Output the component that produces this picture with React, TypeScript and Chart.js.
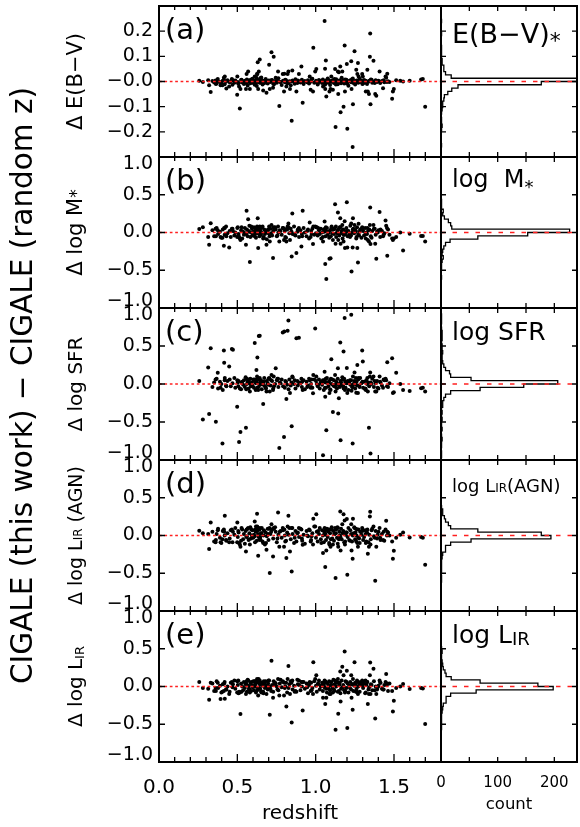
import { useEffect, useRef } from 'react';
import { Chart, registerables } from 'chart.js';

Chart.register(...registerables);

const FONT = '"DejaVu Sans", "Liberation Sans", sans-serif';
const WEIGHT = 'normal';
const W = 580;
const H = 827;

// ---------------- data ----------------
// redshift of each galaxy (first the visible outliers, then the dense core)
const redshift = [
  0.257, 0.280, 0.320, 0.330, 0.314, 0.363, 0.375, 0.393, 0.405, 0.414,
  0.416, 0.420, 0.430, 0.448, 0.465, 0.472, 0.499, 0.511, 0.516, 0.520,
  0.500, 0.559, 0.569, 0.580, 0.555, 0.611, 0.622, 0.626, 0.628, 0.630,
  0.643, 0.637, 0.633, 0.665, 0.686, 0.703, 0.718, 0.732, 0.707, 0.728,
  0.745, 0.760, 0.768, 0.790, 0.800, 0.798, 0.826, 0.821, 0.813, 0.847,
  0.851, 0.836, 0.877, 0.893, 0.909, 0.917, 0.962, 0.968, 0.985, 0.997,
  0.983, 1.004, 1.047, 1.057, 1.061, 1.068, 1.065, 1.060, 1.088, 1.095,
  1.100, 1.110, 1.127, 1.124, 1.142, 1.144, 1.148, 1.159, 1.157, 1.178,
  1.185, 1.187, 1.199, 1.202, 1.170, 1.227, 1.229, 1.236, 1.238, 1.248,
  1.259, 1.266, 1.270, 1.274, 1.297, 1.301, 1.320, 1.333, 1.330, 1.340,
  1.348, 1.346, 1.350, 1.369, 1.380, 1.387, 1.408, 1.430, 1.446, 1.450,
  1.457, 1.488, 1.493, 1.499, 1.514, 1.540, 1.558, 1.600, 1.673, 1.684,
  1.699,
  0.341, 0.352, 0.368, 0.377, 0.389, 0.398, 0.407, 0.419, 0.428, 0.437,
  0.451, 0.458, 0.469, 0.481, 0.487, 0.503, 0.508, 0.524, 0.531, 0.537,
  0.542, 0.548, 0.553, 0.561, 0.566, 0.572, 0.577, 0.583, 0.588, 0.593,
  0.597, 0.602, 0.606, 0.613, 0.617, 0.619, 0.624, 0.632, 0.636, 0.641,
  0.647, 0.651, 0.656, 0.661, 0.667, 0.672, 0.676, 0.681, 0.688, 0.694,
  0.699, 0.711, 0.722, 0.729, 0.741, 0.752, 0.762, 0.771, 0.783, 0.792,
  0.803, 0.811, 0.818, 0.832, 0.841, 0.853, 0.862, 0.871, 0.883, 0.894,
  0.903, 0.912, 0.923, 0.931, 0.942, 0.951, 0.958, 0.971, 0.979, 0.991,
  1.002, 1.007, 1.013, 1.021, 1.026, 1.033, 1.041, 1.046, 1.052, 1.056,
  1.063, 1.066, 1.072, 1.077, 1.081, 1.086, 1.092, 1.102, 1.106, 1.113,
  1.117, 1.121, 1.131, 1.136, 1.141, 1.151, 1.154, 1.162, 1.166, 1.172,
  1.176, 1.182, 1.191, 1.196, 1.204, 1.209, 1.214, 1.221, 1.226, 1.232,
  1.241, 1.246, 1.252, 1.261, 1.264, 1.272, 1.281, 1.284, 1.292, 1.303,
  1.309, 1.316, 1.323, 1.328, 1.342, 1.352, 1.361, 1.372, 1.383, 1.392,
  1.401, 1.412, 1.423, 1.438, 1.462, 1.471, 0.361, 0.506, 0.527, 0.557,
  0.574, 0.589, 0.611, 0.627, 0.643, 0.653, 0.669, 0.683, 0.696, 0.716,
  0.734, 0.756, 0.776, 0.806, 0.827, 0.846, 0.866, 0.886, 0.914, 0.946,
  0.974, 1.016, 1.036, 1.059, 1.083, 1.097, 1.119, 1.139, 1.158, 1.179,
  1.198, 1.219, 1.237, 1.257, 1.277, 1.298, 1.318, 1.337, 1.357, 1.377,
  1.396, 1.414, 1.434, 1.455, 0.614, 0.646, 0.706, 1.129, 1.188, 1.254,
];

// (a) Delta E(B-V)
const dEBV = [
  0.003, -0.002, -0.015, -0.042, 0.005, -0.01, 0.01, -0.015, -0.015, 0.015,
  0.005, 0.02, -0.028, -0.02, 0.01, 0.005, -0.053, -0.02, -0.107, -0.03,
  0.02, 0.03, 0.04, -0.03, -0.03, 0.02, 0.015, 0.03, 0.03, 0.076,
  0.087, 0.04, -0.03, -0.036, -0.045, 0.067, 0.116, 0.098, -0.03, -0.025,
  0.015, 0.04, -0.097, 0.03, 0.031, -0.04, 0.04, 0.03, -0.02, -0.156,
  0.044, -0.03, -0.04, 0.03, 0.06, -0.084, 0.02, -0.033, 0.134, 0.04,
  -0.04, 0.05, -0.02, 0.24, -0.03, -0.06, 0.083, 0.051, -0.04, -0.03,
  0.02, -0.033, -0.181, 0.05, 0.04, -0.05, 0.037, -0.122, 0.06, -0.1,
  0.143, -0.04, 0.07, -0.188, 0.04, 0.08, -0.03, -0.26, -0.09, 0.12,
  0.047, 0.03, 0.074, 0.02, 0.03, 0.02, -0.04, -0.04, 0.047, -0.05,
  0.191, 0.098, -0.09, 0.082, -0.05, -0.057, 0.04, -0.027, 0.02, 0.015,
  0.031, -0.069, -0.04, -0.03, 0.005, 0.003, 0.0, 0.003, 0.008, 0.01,
  -0.1,
  0.002, -0.004, -0.008, 0.001, -0.002, -0.006, 0.003, -0.011, -0.001, 0.005,
  -0.003, 0.001, -0.013, -0.005, 0.004, -0.002, -0.007, 0.006, -0.004, 0.000,
  -0.010, 0.003, -0.005, 0.008, -0.016, -0.001, 0.005, -0.007, 0.002, -0.003,
  0.011, -0.006, -0.002, 0.004, -0.009, 0.001, -0.018, 0.006, -0.003, 0.002,
  -0.005, 0.007, -0.001, -0.012, 0.003, -0.006, 0.001, 0.010, -0.004, -0.008,
  0.004, -0.002, 0.006, -0.009, 0.002, -0.005, 0.013, -0.001, -0.014, 0.003,
  -0.003, 0.005, -0.007, 0.001, -0.015, 0.004, -0.002, 0.009, -0.006, 0.001,
  -0.004, 0.007, -0.010, 0.002, -0.001, 0.005, -0.008, 0.000, 0.011, -0.005,
  0.003, -0.003, -0.012, 0.006, -0.001, 0.002, -0.006, 0.008, -0.004, 0.001,
  -0.009, 0.004, -0.002, 0.012, -0.005, 0.001, -0.014, 0.003, -0.001, 0.006,
  -0.006, 0.002, 0.009, -0.003, -0.011, 0.001, 0.005, -0.007, 0.015, -0.002,
  0.004, -0.008, 0.000, 0.007, -0.004, -0.017, 0.002, 0.005, -0.003, 0.009,
  -0.006, 0.002, -0.012, 0.004, 0.001, -0.005, 0.011, -0.002, 0.003, -0.008,
  0.006, -0.004, 0.001, -0.010, 0.003, 0.008, -0.005, 0.000, 0.005, -0.002,
  0.003, -0.006, 0.002, -0.003, 0.001, -0.002, 0.004, -0.009, 0.007, -0.005,
  0.001, 0.008, -0.013, 0.003, -0.004, 0.016, -0.007, 0.002, -0.001, 0.005,
  -0.011, 0.003, -0.002, 0.007, -0.006, 0.001, -0.009, 0.004, 0.000, -0.003,
  0.008, -0.005, 0.002, -0.013, 0.005, -0.001, 0.010, -0.007, 0.001, 0.004,
  -0.008, 0.002, 0.012, -0.004, 0.006, -0.010, 0.003, -0.001, 0.007, -0.006,
  0.001, -0.003, 0.005, -0.002, -0.008, 0.013, 0.003, -0.012, 0.008, -0.004,
];

// (b) Delta log M*
const dLogMstar = [
  0.045, 0.071, -0.163, 0.124, -0.061, -0.05, 0.03, -0.06, -0.07, -0.176,
  0.06, 0.06, -0.05, -0.198, 0.05, 0.02, -0.06, -0.06, -0.08, -0.1,
  0.06, 0.287, 0.177, -0.391, -0.163, 0.06, 0.05, 0.08, 0.06, 0.19,
  0.08, 0.06, -0.206, -0.08, -0.163, 0.08, 0.1, 0.07, -0.12, -0.338,
  0.04, 0.08, -0.12, 0.06, 0.05, -0.1, 0.12, 0.08, -0.12, -0.317,
  0.251, -0.1, -0.272, 0.06, -0.185, 0.287, 0.132, -0.06, 0.08, 0.08,
  -0.153, 0.07, -0.12, 0.145, -0.418, -0.616, 0.07, 0.05, -0.347, -0.34,
  0.06, -0.1, -0.15, 0.375, 0.265, -0.1, 0.05, -0.15, 0.19, -0.12,
  0.15, -0.206, 0.401, -0.2, 0.1, 0.12, -0.515, -0.2, 0.19, 0.1,
  -0.08, -0.206, -0.396, 0.115, 0.07, 0.05, -0.08, -0.1, 0.06, -0.12,
  0.33, 0.1, -0.153, 0.1, -0.15, -0.347, 0.273, -0.05, 0.159, 0.088,
  -0.308, -0.08, -0.1, -0.08, -0.061, 0.0, -0.238, -0.017, -0.048, -0.045,
  -0.12,
  0.03, -0.05, 0.06, -0.02, 0.01, -0.07, 0.04, -0.03, 0.08, -0.01,
  0.02, -0.06, 0.05, -0.04, 0.00, 0.07, -0.02, 0.03, -0.08, 0.01,
  -0.03, 0.06, -0.01, 0.04, -0.05, 0.02, 0.09, -0.06, 0.00, 0.05,
  -0.04, 0.01, 0.07, -0.02, 0.03, -0.07, 0.05, -0.01, 0.02, -0.05,
  0.06, -0.03, 0.00, 0.08, -0.06, 0.04, -0.02, 0.01, -0.09, 0.03,
  -0.01, 0.05, -0.04, 0.02, 0.07, -0.05, 0.00, 0.03, -0.03, 0.06,
  0.02, -0.07, 0.04, -0.01, 0.05, -0.02, 0.08, -0.04, 0.01, -0.06,
  0.03, -0.02, 0.06, 0.00, -0.05, 0.04, -0.08, 0.02, 0.05, -0.03,
  -0.01, 0.07, -0.04, 0.03, -0.02, 0.05, 0.00, -0.06, 0.04, 0.01,
  -0.05, 0.02, 0.06, -0.03, 0.01, -0.07, 0.03, 0.08, -0.01, 0.04,
  -0.02, 0.05, -0.06, 0.00, 0.03, -0.04, 0.07, -0.01, 0.02, -0.08,
  0.04, -0.03, 0.01, 0.06, -0.05, 0.02, -0.02, 0.09, -0.04, 0.00,
  0.05, -0.01, 0.03, -0.06, 0.07, -0.03, 0.01, 0.04, -0.07, 0.02,
  -0.04, 0.06, 0.00, -0.02, 0.04, -0.05, 0.02, 0.05, -0.03, 0.01,
  0.03, -0.06, 0.02, -0.01, 0.04, -0.03, 0.05, -0.04, 0.07, -0.02,
  0.01, 0.08, -0.05, 0.03, -0.02, 0.06, -0.07, 0.00, 0.04, -0.01,
  0.05, -0.04, 0.02, -0.06, 0.07, 0.01, -0.03, 0.04, -0.05, 0.02,
  -0.02, 0.06, -0.08, 0.03, 0.00, -0.05, 0.05, -0.01, 0.07, -0.03,
  0.02, -0.06, 0.04, 0.01, -0.04, 0.06, -0.02, 0.03, -0.07, 0.05,
  0.00, 0.04, -0.03, 0.06, -0.01, 0.02, -0.05, 0.08, -0.02, 0.03,
];

// (c) Delta log SFR
const dLogSFR = [
  0.04, -0.467, -0.396, 0.471, 0.216, -0.498, 0.149, -0.05, -0.784, 0.44,
  0.281, 0.08, -0.03, 0.229, 0.462, 0.45, -0.3, -0.762, -0.06, -0.63,
  0.05, 0.07, 0.06, -0.1, -0.577, 0.538, 0.185, 0.1, 0.348, 0.07,
  0.634, 0.63, -0.08, -0.264, -0.1, 0.08, 0.12, 0.1, -0.1, -0.08,
  0.207, 0.07, -0.841, 0.678, 0.69, -0.696, 0.836, 0.70, -0.198, -0.555,
  0.1, -0.12, 0.603, 0.61, 0.07, -0.08, 0.05, -0.05, 0.12, 0.73,
  -0.123, 0.1, -0.938, 0.162, -0.167, -0.608, 0.07, 0.06, -0.12, -0.08,
  0.326, -0.37, -0.1, 0.12, 0.207, -0.387, -0.189, -0.74, 0.546, 0.427,
  0.868, -0.08, 0.21, -0.12, 0.09, 0.911, -0.09, -0.784, 0.1, 0.15,
  -0.115, 0.251, -0.12, 0.08, 0.44, 0.295, -0.08, -0.1, 0.08, -0.577,
  0.15, 0.1, -0.916, 0.1, -0.1, -0.1, 0.1, -0.05, 0.07, 0.05,
  0.287, 0.34, -0.12, -0.11, 0.149, 0.0, -0.079, -0.092, -0.057, -0.05,
  -0.1,
  -0.04, 0.02, 0.07, -0.06, 0.03, 0.00, -0.08, 0.05, -0.02, 0.04,
  0.06, -0.03, 0.01, 0.08, -0.05, 0.02, 0.04, -0.07, 0.03, -0.01,
  0.05, -0.04, 0.09, 0.00, 0.03, -0.06, 0.01, 0.07, -0.03, 0.02,
  -0.02, 0.06, -0.05, 0.04, -0.08, 0.01, 0.03, 0.06, -0.04, 0.00,
  0.02, 0.05, -0.07, 0.03, -0.01, 0.08, -0.03, -0.05, 0.04, 0.01,
  0.07, -0.02, 0.04, -0.06, 0.00, 0.05, -0.04, 0.02, 0.06, -0.03,
  -0.05, 0.03, -0.01, 0.06, -0.02, 0.09, 0.00, -0.06, 0.04, 0.02,
  0.01, -0.04, 0.05, -0.07, 0.03, -0.02, 0.07, 0.00, -0.05, 0.06,
  0.04, 0.00, -0.03, 0.06, -0.06, 0.02, -0.01, 0.05, -0.08, 0.03,
  0.02, -0.05, 0.08, 0.01, -0.03, 0.04, -0.07, 0.00, 0.06, -0.02,
  0.05, -0.01, 0.03, -0.06, 0.07, 0.00, -0.04, 0.02, -0.02, 0.06,
  -0.03, 0.07, -0.05, 0.01, 0.04, -0.08, 0.02, -0.01, 0.05, -0.04,
  0.00, 0.04, -0.06, 0.03, -0.02, 0.06, -0.04, 0.08, 0.01, -0.05,
  0.03, -0.07, 0.05, 0.00, -0.03, 0.02, 0.07, -0.04, 0.01, 0.04,
  -0.06, 0.03, -0.02, 0.05, -0.04, 0.01, 0.06, -0.03, 0.02, -0.07,
  0.04, -0.02, 0.06, -0.05, 0.08, 0.00, 0.03, -0.06, -0.01, 0.05,
  -0.03, 0.07, 0.01, 0.04, -0.07, 0.02, 0.05, -0.02, 0.03, -0.04,
  0.06, -0.01, 0.03, -0.05, 0.02, 0.07, -0.03, 0.00, 0.04, -0.06,
  0.01, 0.05, -0.04, 0.08, -0.02, 0.03, -0.06, 0.02, 0.00, 0.04,
  -0.05, 0.02, 0.06, -0.03, 0.04, -0.01, 0.07, -0.04, 0.03, 0.00,
];

// (d) Delta log L_IR(AGN)
const dLogLirAgn = [
  0.062, 0.03, -0.18, 0.172, 0.02, -0.06, 0.07, -0.09, -0.05, 0.08,
  0.05, 0.26, -0.07, -0.09, 0.08, 0.05, -0.09, -0.1, -0.12, -0.15,
  0.172, 0.08, 0.1, -0.12, -0.211, 0.185, 0.06, 0.287, 0.1, 0.07,
  0.1, 0.08, -0.268, -0.1, -0.189, 0.09, 0.15, 0.1, -0.497, -0.277,
  0.05, 0.304, -0.15, 0.1, 0.08, -0.15, 0.26, 0.12, -0.299, -0.476,
  0.1, -0.211, -0.08, 0.1, 0.08, -0.123, 0.07, -0.08, 0.221, 0.12,
  -0.12, 0.283, -0.233, 0.1, -0.418, -0.2, 0.08, 0.06, -0.12, -0.15,
  0.08, -0.12, -0.563, 0.1, 0.1, -0.15, -0.05, -0.2, 0.317, 0.283,
  0.2, -0.12, 0.217, -0.519, 0.15, 0.15, -0.2, -0.308, 0.221, 0.1,
  -0.08, -0.1, -0.15, 0.08, 0.1, 0.07, -0.1, -0.242, 0.08, -0.15,
  0.313, 0.251, -0.12, 0.12, -0.598, -0.15, 0.1, -0.06, 0.08, 0.194,
  0.05, -0.08, -0.308, -0.202, -0.03, 0.01, 0.04, -0.026, -0.021, -0.03,
  -0.387,
  0.05, -0.08, 0.02, 0.09, -0.03, -0.10, 0.06, 0.00, -0.06, 0.03,
  -0.04, 0.07, -0.09, 0.01, 0.10, -0.02, 0.04, -0.07, 0.08, -0.05,
  0.02, -0.11, 0.06, -0.01, 0.09, -0.06, 0.03, 0.11, -0.04, 0.00,
  0.07, -0.03, 0.01, -0.09, 0.05, 0.12, -0.07, 0.02, -0.02, 0.08,
  -0.05, 0.03, 0.10, -0.08, 0.00, 0.06, -0.12, 0.04, -0.01, 0.09,
  -0.06, 0.02, 0.08, -0.04, 0.11, -0.09, 0.01, 0.05, -0.03, 0.07,
  0.00, -0.07, 0.04, 0.10, -0.05, 0.02, -0.10, 0.06, 0.03, -0.02,
  0.09, -0.04, 0.01, -0.11, 0.06, -0.01, 0.08, -0.06, 0.03, 0.12,
  -0.03, 0.05, -0.08, 0.02, 0.10, -0.05, 0.07, 0.00, -0.09, 0.04,
  0.01, -0.06, 0.09, -0.02, 0.05, -0.10, 0.03, 0.11, -0.04, 0.06,
  -0.07, 0.02, 0.08, -0.03, -0.11, 0.05, 0.00, 0.09, -0.05, 0.03,
  0.06, -0.09, 0.01, 0.04, -0.02, 0.10, -0.06, 0.07, 0.02, -0.08,
  0.03, 0.11, -0.05, 0.00, 0.08, -0.03, -0.10, 0.05, 0.01, -0.06,
  -0.02, 0.07, -0.08, 0.04, 0.01, -0.05, 0.09, -0.01, 0.06, -0.04,
  0.05, -0.03, 0.02, -0.07, 0.04, 0.00, -0.09, 0.06, 0.10, -0.02,
  -0.05, 0.08, -0.01, 0.12, -0.06, 0.03, 0.07, -0.10, 0.02, 0.05,
  0.09, -0.04, 0.06, -0.08, 0.01, 0.10, -0.03, 0.04, -0.07, 0.00,
  -0.01, 0.06, -0.10, 0.03, 0.08, -0.05, 0.02, 0.11, -0.02, 0.05,
  0.04, -0.07, 0.00, 0.09, -0.04, 0.06, 0.02, -0.09, 0.07, -0.03,
  0.01, -0.06, 0.05, 0.00, 0.08, -0.02, 0.10, 0.03, -0.08, 0.04,
];

// (e) Delta log L_IR
const dLogLir = [
  0.058, -0.021, -0.176, 0.05, -0.03, -0.06, 0.05, -0.167, -0.07, -0.06,
  0.04, -0.163, -0.04, -0.1, 0.06, 0.03, -0.08, -0.07, -0.08, -0.365,
  0.07, 0.07, 0.08, -0.08, -0.1, 0.07, 0.05, 0.1, 0.08, 0.06,
  0.08, 0.06, -0.12, -0.07, -0.1, 0.08, 0.34, 0.07, -0.374, -0.15,
  0.04, 0.1, -0.12, 0.07, 0.05, -0.12, 0.273, 0.1, -0.264, -0.476,
  0.08, -0.1, -0.07, 0.08, 0.06, -0.317, 0.06, -0.06, 0.322, 0.1,
  -0.1, 0.15, -0.15, 0.08, -0.233, -0.15, 0.06, 0.05, -0.1, -0.1,
  0.06, -0.08, -0.572, 0.08, 0.1, -0.361, -0.06, -0.2, 0.2, 0.15,
  0.462, -0.08, 0.207, -0.55, 0.26, 0.15, -0.15, -0.308, 0.1, 0.322,
  -0.06, -0.08, -0.1, 0.06, 0.08, 0.06, -0.08, -0.233, 0.06, -0.1,
  0.317, 0.15, -0.1, 0.234, -0.423, -0.1, 0.08, -0.04, 0.06, 0.164,
  0.04, -0.06, -0.33, -0.189, -0.02, 0.0, 0.032, -0.034, -0.021, -0.025,
  -0.497,
  0.04, -0.06, 0.07, -0.02, 0.01, -0.08, 0.03, 0.06, -0.04, 0.00,
  -0.07, 0.05, -0.01, 0.08, -0.03, 0.02, -0.09, 0.04, 0.00, -0.05,
  0.06, -0.02, 0.03, -0.07, 0.09, 0.01, -0.04, 0.05, -0.06, 0.02,
  -0.01, 0.07, -0.05, 0.03, 0.00, -0.08, 0.06, -0.03, 0.10, -0.02,
  0.03, -0.06, 0.05, 0.01, -0.09, 0.04, -0.02, 0.07, 0.00, -0.04,
  0.08, -0.03, 0.02, -0.07, 0.05, 0.00, -0.05, 0.04, -0.01, 0.06,
  -0.02, 0.05, -0.08, 0.03, 0.07, -0.04, 0.01, -0.06, 0.09, 0.02,
  -0.05, 0.00, 0.06, -0.03, 0.04, -0.09, 0.02, 0.05, -0.02, 0.07,
  0.01, -0.07, 0.03, 0.08, -0.04, 0.00, 0.05, -0.06, 0.02, -0.01,
  0.06, -0.03, -0.08, 0.04, 0.01, 0.07, -0.05, 0.02, -0.02, 0.09,
  -0.04, 0.03, 0.00, 0.06, -0.07, 0.02, 0.05, -0.03, 0.08, -0.01,
  0.02, -0.05, 0.07, -0.02, 0.04, -0.08, 0.01, 0.06, -0.04, 0.03,
  -0.06, 0.01, 0.05, -0.03, 0.08, 0.00, -0.07, 0.03, 0.06, -0.02,
  0.04, -0.09, 0.02, 0.06, -0.01, 0.03, -0.05, 0.07, 0.00, -0.04,
  0.01, 0.05, -0.03, 0.02, -0.06, 0.04, -0.02, 0.08, -0.07, 0.03,
  -0.03, 0.06, 0.00, -0.05, 0.03, -0.08, 0.07, 0.01, 0.04, -0.06,
  0.02, -0.04, 0.09, 0.00, -0.02, 0.05, -0.07, 0.03, 0.06, -0.01,
  -0.05, 0.04, 0.01, 0.07, -0.03, 0.02, -0.06, 0.05, -0.09, 0.00,
  0.06, -0.02, 0.03, -0.07, 0.04, 0.01, 0.08, -0.04, 0.02, -0.05,
  -0.01, 0.05, -0.04, 0.02, 0.07, -0.03, 0.00, 0.06, -0.06, 0.03,
];

// histogram counts, bins k = -23 .. 22 (lower edge = k * bin width)
const histFirstBin = -23;
const histBinWidth = [0.013, 0.044, 0.044, 0.044, 0.044];
const histEBV = [
  0, 0, 0, 1, 0, 0, 0, 0, 1, 2, 1, 1, 0, 1, 2, 3, 3, 5, 6, 12, 19, 30, 177,
  250, 18, 8, 5, 5, 2, 2, 1, 1, 1, 1, 0, 0, 0, 1, 0, 0, 0, 1, 0, 0, 0, 0,
];
const histLogMstar = [
  0, 0, 0, 0, 0, 0, 0, 0, 0, 1, 0, 0, 1, 1, 2, 4, 2, 3, 5, 8, 16, 65, 153,
  227, 19, 17, 13, 6, 3, 4, 1, 1, 1, 0, 0, 0, 0, 0, 0, 0, 0, 0, 0, 0, 0, 0,
];
const histLogSFR = [
  0, 1, 1, 0, 1, 1, 2, 1, 0, 2, 1, 1, 2, 1, 2, 1, 3, 3, 5, 8, 17, 69, 146,
  206, 53, 17, 15, 8, 5, 3, 2, 2, 3, 2, 2, 1, 2, 2, 2, 1, 0, 1, 1, 1, 0, 0,
];
const histLogLirAgn = [
  0, 0, 0, 0, 0, 0, 0, 0, 0, 1, 1, 0, 1, 1, 1, 1, 2, 3, 8, 8, 17, 53, 194,
  177, 65, 17, 13, 8, 6, 3, 3, 1, 0, 0, 0, 0, 0, 0, 0, 0, 0, 0, 0, 0, 0, 0,
];
const histLogLir = [
  0, 0, 0, 0, 0, 0, 0, 0, 0, 0, 1, 1, 1, 1, 1, 2, 3, 4, 9, 9, 17, 62, 198,
  171, 69, 18, 9, 7, 4, 3, 2, 1, 1, 2, 1, 0, 0, 0, 0, 0, 0, 0, 0, 0, 0, 0,
];

// axes
const redshiftRange = [0, 1.8];
const countRange = [0, 240];
const deltaRanges = [[-0.3, 0.3], [-1, 1], [-1, 1], [-1, 1], [-1, 1]];
const redshiftMajorTicks = [0, 0.5, 1.0, 1.5];
const redshiftTickLabels = ['0.0', '0.5', '1.0', '1.5'];
const redshiftMinorTicks = [0.1, 0.2, 0.3, 0.4, 0.6, 0.7, 0.8, 0.9, 1.1, 1.2, 1.3, 1.4, 1.6, 1.7];
const countTicks = [0, 50, 100, 150, 200];
const countLabelTicks = [0, 100, 200];
const countTickLabels = ['0', '100', '200'];
const ebvTicks = [-0.2, -0.1, 0, 0.1, 0.2];
const ebvTickLabels = ['−0.2', '−0.1', '−0.0', '0.1', '0.2'];
const logTicks = [-1, -0.5, 0, 0.5, 1];
const logTickLabels = ['−1.0', '−0.5', '0.0', '0.5', '1.0'];

// text
const panelLetters = ['(a)', '(b)', '(c)', '(d)', '(e)'];
type Seg = { t: string; size: number; dy?: number };
const yTitles: Seg[][] = [
  [{ t: 'Δ E(B−V)', size: 21 }],
  [{ t: 'Δ log M', size: 21 }, { t: '*', size: 17 }],
  [{ t: 'Δ log SFR', size: 20 }],
  [{ t: 'Δ log L', size: 19 }, { t: 'IR', size: 12 }, { t: ' (AGN)', size: 19 }],
  [{ t: 'Δ log L', size: 20 }, { t: 'IR', size: 13, dy: 2 }],
];
const histTitles: Seg[][] = [
  [{ t: 'E(B−V)', size: 27 }, { t: '*', size: 22, dy: 5 }],
  [{ t: 'log  M', size: 24 }, { t: '*', size: 18, dy: 6 }],
  [{ t: 'log SFR', size: 25 }],
  [{ t: 'log L', size: 18 }, { t: 'IR', size: 12 }, { t: '(AGN)', size: 18 }],
  [{ t: 'log L', size: 25 }, { t: 'IR', size: 18, dy: 2 }],
];
const mainTitle = 'CIGALE (this work) − CIGALE (random z)';
const xTitle = 'redshift';
const countTitle = 'count';

const deltas = [dEBV, dLogMstar, dLogSFR, dLogLirAgn, dLogLir];
const hists = [histEBV, histLogMstar, histLogSFR, histLogLirAgn, histLogLir];

// layout (pixels)
const panelTops = [6, 157, 308, 460, 611];
const panelBottoms = [157, 308, 460, 611, 762];
const scatterLeft = 159;
const splitX = 441;
const histRight = 577;

const font = (size: number) => `${WEIGHT} ${size}px ${FONT}`;

function drawSegs(ctx: CanvasRenderingContext2D, segs: Seg[], x: number, y: number, center: boolean) {
  let total = 0;
  for (const s of segs) {
    ctx.font = font(s.size);
    total += ctx.measureText(s.t).width;
  }
  let cx = center ? x - total / 2 : x;
  for (const s of segs) {
    ctx.font = font(s.size);
    ctx.fillText(s.t, cx, y + (s.dy || 0));
    cx += ctx.measureText(s.t).width;
  }
}

function scatterDecor(i: number) {
  return {
    id: 'scatterDecor',
    afterDraw(chart: any) {
      const ctx: CanvasRenderingContext2D = chart.ctx;
      const a = chart.chartArea;
      const xs = chart.scales.x;
      const ys = chart.scales.y;
      const yTicks = i === 0 ? ebvTicks : logTicks;
      const yLabels = i === 0 ? ebvTickLabels : logTickLabels;
      ctx.save();
      ctx.strokeStyle = '#000';
      ctx.fillStyle = '#000';
      ctx.lineWidth = 1.3;
      ctx.beginPath();
      for (const v of redshiftMajorTicks) {
        const px = xs.getPixelForValue(v);
        ctx.moveTo(px, a.bottom); ctx.lineTo(px, a.bottom - 8);
        ctx.moveTo(px, a.top); ctx.lineTo(px, a.top + 6);
      }
      for (const v of redshiftMinorTicks) {
        const px = xs.getPixelForValue(v);
        ctx.moveTo(px, a.bottom); ctx.lineTo(px, a.bottom - 5);
        ctx.moveTo(px, a.top); ctx.lineTo(px, a.top + 4);
      }
      for (const v of yTicks) {
        const py = ys.getPixelForValue(v);
        ctx.moveTo(a.left, py); ctx.lineTo(a.left + 6, py);
      }
      ctx.stroke();
      ctx.lineWidth = 2;
      ctx.strokeRect(a.left, a.top, a.right - a.left, a.bottom - a.top);

      ctx.font = font(19);
      ctx.textAlign = 'right';
      ctx.textBaseline = 'middle';
      yTicks.forEach((v, k) => {
        let py = ys.getPixelForValue(v);
        py = Math.min(Math.max(py, a.top + 7.5), a.bottom - 6.5);
        ctx.fillText(yLabels[k], a.left - 6, py);
      });

      ctx.textAlign = 'left';
      ctx.textBaseline = 'alphabetic';
      ctx.font = font(29);
      ctx.fillText(panelLetters[i], a.left + 6, a.top + 33);

      ctx.save();
      ctx.translate(82, (a.top + a.bottom) / 2);
      ctx.rotate(-Math.PI / 2);
      drawSegs(ctx, yTitles[i], 0, 0, true);
      ctx.restore();

      if (i === 4) {
        ctx.font = font(20);
        ctx.textAlign = 'center';
        ctx.textBaseline = 'middle';
        redshiftMajorTicks.forEach((v, k) => {
          ctx.fillText(redshiftTickLabels[k], xs.getPixelForValue(v), 787.5);
        });
        ctx.textBaseline = 'alphabetic';
        ctx.fillText(xTitle, (a.left + a.right) / 2, 819);
      }
      if (i === 2) {
        ctx.save();
        ctx.translate(32, 385.5);
        ctx.rotate(-Math.PI / 2);
        ctx.font = font(29.5);
        ctx.textAlign = 'center';
        ctx.textBaseline = 'alphabetic';
        ctx.fillText(mainTitle, 0, 0);
        ctx.restore();
      }
      ctx.restore();
    },
  };
}

function histDecor(i: number) {
  return {
    id: 'histDecor',
    afterDraw(chart: any) {
      const ctx: CanvasRenderingContext2D = chart.ctx;
      const a = chart.chartArea;
      const xs = chart.scales.x;
      const ys = chart.scales.y;
      const yTicks = i === 0 ? ebvTicks : logTicks;
      ctx.save();
      ctx.strokeStyle = '#000';
      ctx.fillStyle = '#000';
      ctx.lineWidth = 1.3;
      ctx.beginPath();
      for (const v of countTicks) {
        const px = xs.getPixelForValue(v);
        ctx.moveTo(px, a.bottom); ctx.lineTo(px, a.bottom - 5);
        ctx.moveTo(px, a.top); ctx.lineTo(px, a.top + 5);
      }
      for (const v of yTicks) {
        const py = ys.getPixelForValue(v);
        ctx.moveTo(a.left, py); ctx.lineTo(a.left + 5, py);
        ctx.moveTo(a.right, py); ctx.lineTo(a.right - 5, py);
      }
      ctx.stroke();
      ctx.lineWidth = 2;
      ctx.strokeRect(a.left, a.top, a.right - a.left, a.bottom - a.top);

      ctx.textAlign = 'left';
      ctx.textBaseline = 'alphabetic';
      const base = [37, 30, 32, 32, 32][i];
      drawSegs(ctx, histTitles[i], a.left + 11, a.top + base, false);

      if (i === 4) {
        ctx.font = font(15);
        ctx.textAlign = 'center';
        ctx.textBaseline = 'middle';
        countLabelTicks.forEach((v, k) => {
          ctx.fillText(countTickLabels[k], xs.getPixelForValue(v), 783);
        });
        ctx.textBaseline = 'alphabetic';
        ctx.font = font(16.5);
        ctx.fillText(countTitle, (a.left + a.right) / 2, 809);
      }
      ctx.restore();
    },
  };
}

const baseOptions = (padding: any, xr: number[], yr: number[]) => ({
  animation: false,
  responsive: false,
  maintainAspectRatio: false,
  devicePixelRatio: 1,
  events: [],
  layout: { autoPadding: false, padding },
  plugins: { legend: { display: false }, tooltip: { enabled: false }, title: { display: false } },
  scales: {
    x: { type: 'linear', min: xr[0], max: xr[1], display: false },
    y: { type: 'linear', min: yr[0], max: yr[1], display: false },
  },
});

function scatterConfig(i: number): any {
  const pts = redshift.map((z, k) => ({ x: z, y: deltas[i][k] }));
  return {
    type: 'scatter',
    data: {
      datasets: [
        {
          data: [{ x: redshiftRange[0], y: 0 }, { x: redshiftRange[1], y: 0 }],
          showLine: true, borderColor: '#ff2020', borderWidth: 1.5, borderDash: [2.7, 2.7],
          pointRadius: 0, order: 0,
        },
        {
          data: pts, showLine: false, pointRadius: 2.0, pointHoverRadius: 2.0,
          pointBackgroundColor: '#000', pointBorderWidth: 0, order: 1,
        },
      ],
    },
    options: baseOptions(
      { left: scatterLeft, right: W - splitX, top: panelTops[i], bottom: H - panelBottoms[i] },
      redshiftRange, deltaRanges[i]),
    plugins: [scatterDecor(i)],
  };
}

function histConfig(i: number): any {
  const counts = hists[i];
  const bw = histBinWidth[i];
  const pts = counts.map((c, k) => ({ x: c, y: (histFirstBin + k) * bw }));
  pts.push({ x: counts[counts.length - 1], y: (histFirstBin + counts.length) * bw });
  return {
    type: 'scatter',
    data: {
      datasets: [
        {
          data: [{ x: countRange[0], y: 0 }, { x: countRange[1], y: 0 }],
          showLine: true, borderColor: '#ff2020', borderWidth: 1.5, borderDash: [4.5, 7],
          pointRadius: 0, order: 0,
        },
        {
          data: pts, showLine: true, stepped: 'after', borderColor: '#000', borderWidth: 1.3,
          pointRadius: 0, order: 1,
        },
      ],
    },
    options: baseOptions(
      { left: splitX, right: W - histRight, top: panelTops[i], bottom: H - panelBottoms[i] },
      countRange, deltaRanges[i]),
    plugins: [histDecor(i)],
  };
}

function ChartCanvas({ make }: { make: () => any }) {
  const ref = useRef<HTMLCanvasElement>(null);
  useEffect(() => {
    const chart = new Chart(ref.current as HTMLCanvasElement, make());
    return () => chart.destroy();
  }, []);
  return (
    <canvas
      ref={ref}
      width={W}
      height={H}
      style={{ position: 'absolute', left: 0, top: 0, width: W, height: H }}
    />
  );
}

export default function App() {
  const idx = [0, 1, 2, 3, 4];
  return (
    <div style={{ position: 'absolute', left: 0, top: 0, width: W, height: H, background: '#fff', overflow: 'hidden' }}>
      {idx.map((i) => <ChartCanvas key={'s' + i} make={() => scatterConfig(i)} />)}
      {idx.map((i) => <ChartCanvas key={'h' + i} make={() => histConfig(i)} />)}
    </div>
  );
}
